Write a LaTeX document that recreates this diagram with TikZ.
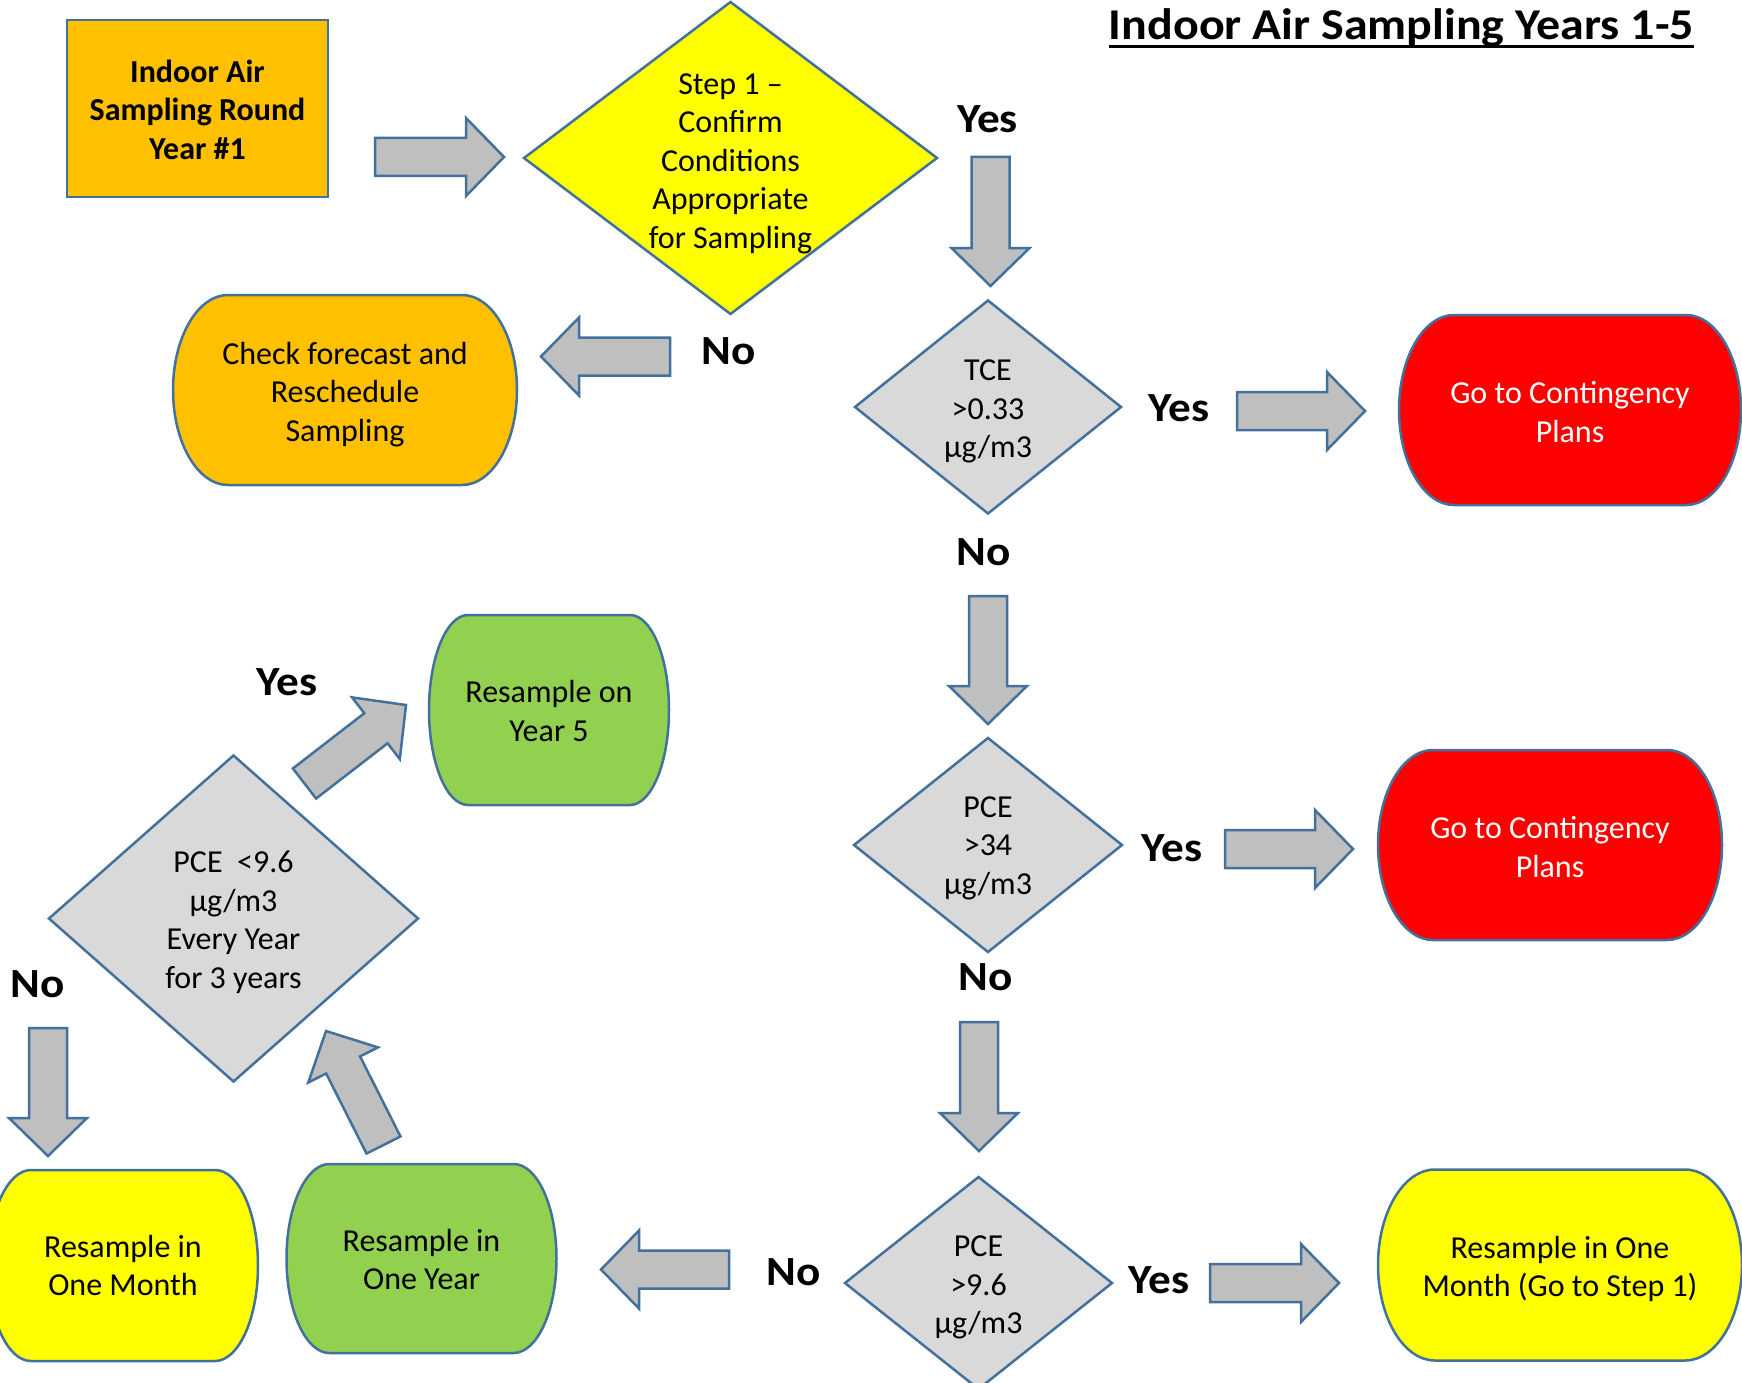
\documentclass[tikz,border=0pt]{standalone}
\usepackage{fontspec}
\setmainfont{Carlito}
\usetikzlibrary{calc,backgrounds}

\definecolor{outl}{RGB}{65,113,156}
\definecolor{orng}{RGB}{255,192,0}
\definecolor{yel}{RGB}{255,255,0}
\definecolor{redf}{RGB}{255,0,0}
\definecolor{grn}{RGB}{146,208,80}
\definecolor{dgray}{RGB}{217,217,217}
\definecolor{agray}{RGB}{191,191,191}

\newcommand\widetxt[1]{\scalebox{1.09}[1]{#1}}

\tikzset{
  shapeline/.style={draw=outl, line width=2.5pt, line join=miter},
  arrowshape/.style={shapeline, fill=agray},
  bodytext/.style={font=\fontsize{32}{38.5}\selectfont, align=center, inner sep=0pt},
  boldbody/.style={font=\fontsize{32}{38.5}\selectfont\bfseries, align=center, inner sep=0pt},
  labeltext/.style={font=\fontsize{41.5}{50}\selectfont\bfseries, inner sep=0pt},
  titletext/.style={font=\fontsize{44}{52}\selectfont\bfseries, inner sep=0pt},
}

% terminator: name, x, y, half width, half height, rx, fill, text style, text
\newcommand\termbox[9]{%
  \coordinate (#1c) at (#2,#3);
  \node[bodytext, #8] (#1) at (#1c) {#9};
  \begin{pgfonlayer}{background}
  \draw[shapeline, fill=#7]
    ([shift={({(#6-#4)*1pt},#5pt)}]#1c) -- ([shift={({(#4-#6)*1pt},#5pt)}]#1c)
    arc[start angle=90, end angle=-90, x radius=#6pt, y radius=#5pt]
    -- ([shift={({(#6-#4)*1pt},-#5pt)}]#1c)
    arc[start angle=270, end angle=90, x radius=#6pt, y radius=#5pt] -- cycle;
  \end{pgfonlayer}}

% diamond: name, x, y, half width, half height, fill, text style, text
\newcommand\diabox[8]{%
  \coordinate (#1c) at (#2,#3);
  \node[bodytext, #7] (#1) at (#1c) {#8};
  \begin{pgfonlayer}{background}
  \draw[shapeline, fill=#6] ([yshift=#5pt]#1c) -- ([xshift=#4pt]#1c)
    -- ([yshift=-#5pt]#1c) -- ([xshift=-#4pt]#1c) -- cycle;
  \end{pgfonlayer}}

% block arrow from tail coordinate to tip coordinate
\newcommand\blockarr[2]{%
  \coordinate (bah) at ($(#2)!38pt!(#1)$);
  \draw[arrowshape] ($(#1)!19pt!90:(#2)$) -- ($(bah)!19pt!90:(#2)$) -- ($(bah)!39pt!90:(#2)$)
    -- (#2) -- ($(bah)!39pt!-90:(#2)$) -- ($(bah)!19pt!-90:(#2)$) -- ($(#1)!19pt!-90:(#2)$) -- cycle;}

\begin{document}
\begin{tikzpicture}[x=1pt, y=-1pt]
\useasboundingbox (0,0) rectangle (1742,1383);
\begin{pgfonlayer}{background}
\fill[white] (0,0) rectangle (1742,1383);
\end{pgfonlayer}

% title
\node[titletext, anchor=base] (title) at (1401.5,39.5) {\widetxt{Indoor Air Sampling Years 1-5}};
\draw[line width=3.5pt] ([yshift=-7pt]title.base west) -- ([yshift=-7pt]title.base east);

% start box
\coordinate (startc) at (197.5,108.5);
\node[shapeline, fill=orng, minimum width=261pt, minimum height=177pt, inner sep=0pt] (startbox) at (startc) {};
\node[boldbody, yshift=-1pt] (start) at (startc) {Indoor Air\\Sampling Round\\Year \#1};

% diamonds
\diabox{step}{730.5}{158}{206.5}{156}{yel}{yshift=-5.5pt}{Step 1 –\\Confirm\\Conditions\\Appropriate\\for Sampling}
\diabox{tce}{988}{407}{133}{106.5}{dgray}{yshift=-4.4pt}{TCE\\>0.33\\µg/m3}
\diabox{pceA}{988}{845}{134}{107}{dgray}{yshift=-3.3pt}{PCE\\>34\\µg/m3}
\diabox{pceB}{978.5}{1283}{133.5}{106}{dgray}{yshift=-4.4pt}{PCE\\>9.6\\µg/m3}
\diabox{pceC}{233.5}{918.5}{184.5}{163}{dgray}{yshift=-4pt}{PCE\ \ <9.6\\µg/m3\\Every Year\\for 3 years}

% terminators
\termbox{check}{345}{390}{172}{95}{55}{orng}{yshift=-4.4pt}{Check forecast and\\Reschedule\\Sampling}
\termbox{redA}{1570}{410}{171}{95}{55}{redf}{text=white, yshift=-2.2pt}{Go to Contingency\\Plans}
\termbox{redB}{1550}{845}{172}{95}{55}{redf}{text=white, yshift=-2.2pt}{Go to Contingency\\Plans}
\termbox{yelB}{1560}{1265}{182}{95.5}{57}{yel}{yshift=-4pt}{Resample in One\\Month (Go to Step 1)}
\termbox{oneyear}{421.5}{1258.5}{135}{94.5}{43}{grn}{yshift=-1pt}{Resample in\\One Year}
\termbox{yearfive}{549}{710}{120}{95}{39}{grn}{yshift=-1pt}{Resample on\\Year 5}
\termbox{onemonth}{123}{1265.5}{135}{95.5}{43}{yel}{}{Resample in\\One Month}

% labels
\node[labeltext] (l1) at (987.5,119.5) {\widetxt{Yes}};
\node[labeltext] (l2) at (729,351) {\widetxt{No}};
\node[labeltext] (l3) at (1179,408) {\widetxt{Yes}};
\node[labeltext] (l4) at (984,552) {\widetxt{No}};
\node[labeltext] (l5) at (1172,848) {\widetxt{Yes}};
\node[labeltext] (l6) at (986,977) {\widetxt{No}};
\node[labeltext] (l7) at (1159,1280) {\widetxt{Yes}};
\node[labeltext] (l8) at (794,1272) {\widetxt{No}};
\node[labeltext] (l9) at (287,682) {\widetxt{Yes}};
\node[labeltext] (l10) at (38,984) {\widetxt{No}};

% arrow end points
\coordinate (a1t) at (375,157);    \coordinate (a1h) at (504,157);
\coordinate (a2t) at (990.5,157);  \coordinate (a2h) at (990.5,286);
\coordinate (a3t) at (670,356.5);  \coordinate (a3h) at (541,356.5);
\coordinate (a4t) at (1237,411);   \coordinate (a4h) at (1365,411);
\coordinate (a5t) at (988,596);    \coordinate (a5h) at (988,724);
\coordinate (a6t) at (1225,849);   \coordinate (a6h) at (1353,849);
\coordinate (a7t) at (979,1022);   \coordinate (a7h) at (979,1151);
\coordinate (a8t) at (1210,1283);  \coordinate (a8h) at (1339,1283);
\coordinate (a9t) at (729,1269.5); \coordinate (a9h) at (601,1269.5);
\coordinate (a10t) at (383.5,1145); \coordinate (a10h) at (326,1031);
\coordinate (a11t) at (304.5,783.5); \coordinate (a11h) at (406,705);
\coordinate (a12t) at (48,1028);   \coordinate (a12h) at (48,1156);

\blockarr{a1t}{a1h}
\blockarr{a2t}{a2h}
\blockarr{a3t}{a3h}
\blockarr{a4t}{a4h}
\blockarr{a5t}{a5h}
\blockarr{a6t}{a6h}
\blockarr{a7t}{a7h}
\blockarr{a8t}{a8h}
\blockarr{a9t}{a9h}
\blockarr{a10t}{a10h}
\blockarr{a11t}{a11h}
\blockarr{a12t}{a12h}
\end{tikzpicture}
\end{document}
